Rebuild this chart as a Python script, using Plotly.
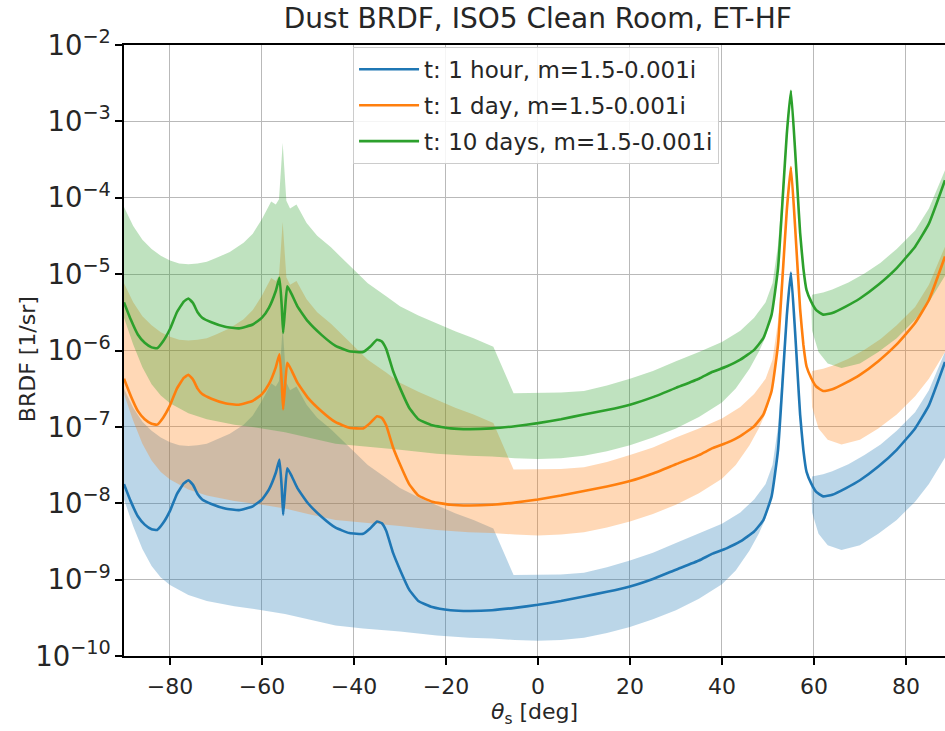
import plotly.graph_objects as go

# ---------------- data ----------------
theta = [-90, -88.5, -87, -85.5, -84, -82.8, -81.5, -80, -78.5, -77,
         -76, -75, -74, -73, -71, -68, -65, -62, -60, -58.5,
         -57, -56.2, -55.7, -55.4, -55, -54.5, -53.5, -52.3, -50, -47,
         -44, -41, -38, -36.5, -35, -34, -33, -31.5, -30, -28,
         -26, -23, -19, -15, -10, -5, 0, 5, 10, 15,
         20, 25, 30, 35, 38, 41, 44, 47, 49, 50.8,
         52.2, 53.3, 54.1, 55, 55.9, 56.5, 57, 57.7, 58.4, 59.4,
         60.5, 62, 64, 67, 70, 74, 78, 82, 85, 88.5]

brdf_1h = [1.78e-8, 1.05e-8, 6.76e-9, 5.25e-9, 4.57e-9, 4.47e-9, 5.50e-9, 7.94e-9, 1.32e-8, 1.82e-8,
           2.00e-8, 1.74e-8, 1.32e-8, 1.12e-8, 9.77e-9, 8.51e-9, 8.13e-9, 9.12e-9, 1.12e-8, 1.51e-8,
           2.51e-8, 3.72e-8, 1.58e-8, 7.08e-9, 1.41e-8, 2.88e-8, 2.24e-8, 1.58e-8, 1.00e-8, 6.61e-9,
           4.79e-9, 4.07e-9, 3.98e-9, 4.68e-9, 5.75e-9, 5.50e-9, 4.37e-9, 2.24e-9, 1.35e-9, 7.41e-10,
           5.25e-10, 4.37e-10, 3.98e-10, 3.89e-10, 3.98e-10, 4.27e-10, 4.68e-10, 5.25e-10, 6.03e-10, 6.92e-10,
           8.13e-10, 1.02e-9, 1.35e-9, 1.78e-9, 2.19e-9, 2.57e-9, 3.16e-9, 4.27e-9, 6.03e-9, 1.23e-8,
           5.01e-8, 5.01e-7, 2.82e-6, 1.05e-5, 1.78e-6, 4.47e-7, 1.45e-7, 5.01e-8, 2.57e-8, 1.82e-8,
           1.41e-8, 1.23e-8, 1.29e-8, 1.58e-8, 2.00e-8, 3.02e-8, 5.01e-8, 9.55e-8, 1.91e-7, 7.08e-7]

brdf_1d = [4.27e-7, 2.52e-7, 1.62e-7, 1.26e-7, 1.10e-7, 1.07e-7, 1.32e-7, 1.91e-7, 3.17e-7, 4.37e-7,
           4.80e-7, 4.18e-7, 3.17e-7, 2.69e-7, 2.34e-7, 2.04e-7, 1.95e-7, 2.19e-7, 2.69e-7, 3.62e-7,
           6.02e-7, 8.93e-7, 3.79e-7, 1.70e-7, 3.38e-7, 6.91e-7, 5.38e-7, 3.79e-7, 2.40e-7, 1.59e-7,
           1.15e-7, 9.77e-8, 9.55e-8, 1.12e-7, 1.38e-7, 1.32e-7, 1.05e-7, 5.38e-8, 3.24e-8, 1.78e-8,
           1.26e-8, 1.05e-8, 9.55e-9, 9.34e-9, 9.55e-9, 1.02e-8, 1.12e-8, 1.26e-8, 1.45e-8, 1.66e-8,
           1.95e-8, 2.45e-8, 3.24e-8, 4.27e-8, 5.26e-8, 6.17e-8, 7.58e-8, 1.02e-7, 1.45e-7, 2.95e-7,
           1.20e-6, 1.20e-5, 6.77e-5, 2.52e-4, 4.27e-5, 1.07e-5, 3.48e-6, 1.20e-6, 6.17e-7, 4.37e-7,
           3.38e-7, 2.95e-7, 3.10e-7, 3.79e-7, 4.80e-7, 7.25e-7, 1.20e-6, 2.29e-6, 4.58e-6, 1.70e-5]

brdf_10d = [4.27e-6, 2.52e-6, 1.62e-6, 1.26e-6, 1.10e-6, 1.07e-6, 1.32e-6, 1.91e-6, 3.17e-6, 4.37e-6,
            4.80e-6, 4.18e-6, 3.17e-6, 2.69e-6, 2.34e-6, 2.04e-6, 1.95e-6, 2.19e-6, 2.69e-6, 3.62e-6,
            6.02e-6, 8.93e-6, 3.79e-6, 1.70e-6, 3.38e-6, 6.91e-6, 5.38e-6, 3.79e-6, 2.40e-6, 1.59e-6,
            1.15e-6, 9.77e-7, 9.55e-7, 1.12e-6, 1.38e-6, 1.32e-6, 1.05e-6, 5.38e-7, 3.24e-7, 1.78e-7,
            1.26e-7, 1.05e-7, 9.55e-8, 9.34e-8, 9.55e-8, 1.02e-7, 1.12e-7, 1.26e-7, 1.45e-7, 1.66e-7,
            1.95e-7, 2.45e-7, 3.24e-7, 4.27e-7, 5.26e-7, 6.17e-7, 7.58e-7, 1.02e-6, 1.45e-6, 2.95e-6,
            1.20e-5, 1.20e-4, 6.77e-4, 2.52e-3, 4.27e-4, 1.07e-4, 3.48e-5, 1.20e-5, 6.17e-6, 4.37e-6,
            3.38e-6, 2.95e-6, 3.10e-6, 3.79e-6, 4.80e-6, 7.25e-6, 1.20e-5, 2.29e-5, 4.58e-5, 1.70e-4]

# upper edge of the shaded uncertainty bands
band_up_theta = [-90, -88, -86, -84, -82, -80, -78, -76, -74, -72,
                 -70, -67, -64, -62, -60, -59, -58, -57, -56.3, -55.5,
                 -54.7, -53.9, -52.5, -50.3, -48, -45, -41, -37, -33, -30,
                 -26, -22, -18, -14, -9.7, -5.3, 0, 5, 10, 15,
                 20, 25, 30, 35, 40, 44, 47, 49.5, 51, 52.2,
                 53.3, 54.1, 55, 55.9, 57, 58.4, 59.4, 59.6, 62, 64,
                 67.5, 71, 74.5, 78, 82, 85, 88.5]

up_1h = [3.16e-7, 1.78e-7, 1.17e-7, 8.91e-8, 7.24e-8, 6.31e-8, 5.75e-8, 5.62e-8, 5.75e-8, 6.03e-8,
         6.76e-8, 8.13e-8, 1.07e-7, 1.41e-7, 2.19e-7, 2.82e-7, 3.72e-7, 3.39e-7, 3.98e-7, 2.00e-6,
         3.80e-7, 3.02e-7, 3.39e-7, 1.95e-7, 1.32e-7, 9.33e-8, 5.37e-8, 3.16e-8, 2.14e-8, 1.58e-8,
         1.20e-8, 9.33e-9, 7.41e-9, 6.03e-9, 4.68e-9, 1.15e-9, 1.15e-9, 1.17e-9, 1.23e-9, 1.45e-9,
         1.78e-9, 2.24e-9, 3.02e-9, 3.98e-9, 5.37e-9, 7.59e-9, 1.12e-8, 1.78e-8, 3.16e-8, 1.00e-7,
         7.08e-7, 3.55e-6, 1.05e-5, 1.78e-6, 1.45e-7, 2.57e-8, 1.82e-8, 2.24e-8, 2.40e-8, 2.63e-8,
         3.24e-8, 4.27e-8, 5.89e-8, 8.91e-8, 1.55e-7, 3.02e-7, 9.55e-7]

up_1d = [7.58e-6, 4.27e-6, 2.81e-6, 2.14e-6, 1.74e-6, 1.51e-6, 1.38e-6, 1.35e-6, 1.38e-6, 1.45e-6,
         1.62e-6, 1.95e-6, 2.57e-6, 3.38e-6, 5.26e-6, 6.77e-6, 8.93e-6, 8.14e-6, 9.55e-6, 4.80e-5,
         9.12e-6, 7.25e-6, 8.14e-6, 4.68e-6, 3.17e-6, 2.24e-6, 1.29e-6, 7.58e-7, 5.14e-7, 3.79e-7,
         2.88e-7, 2.24e-7, 1.78e-7, 1.45e-7, 1.12e-7, 2.76e-8, 2.76e-8, 2.81e-8, 2.95e-8, 3.48e-8,
         4.27e-8, 5.38e-8, 7.25e-8, 9.55e-8, 1.29e-7, 1.82e-7, 2.69e-7, 4.27e-7, 7.58e-7, 2.40e-6,
         1.70e-5, 8.52e-5, 2.52e-4, 4.27e-5, 3.48e-6, 6.17e-7, 4.37e-7, 5.38e-7, 5.76e-7, 6.31e-7,
         7.78e-7, 1.02e-6, 1.41e-6, 2.14e-6, 3.72e-6, 7.25e-6, 2.29e-5]

up_10d = [7.58e-5, 4.27e-5, 2.81e-5, 2.14e-5, 1.74e-5, 1.51e-5, 1.38e-5, 1.35e-5, 1.38e-5, 1.45e-5,
          1.62e-5, 1.95e-5, 2.57e-5, 3.38e-5, 5.26e-5, 6.77e-5, 8.93e-5, 8.14e-5, 9.55e-5, 5.20e-4,
          9.12e-5, 7.25e-5, 8.14e-5, 4.68e-5, 3.17e-5, 2.24e-5, 1.29e-5, 7.58e-6, 5.14e-6, 3.79e-6,
          2.88e-6, 2.24e-6, 1.78e-6, 1.45e-6, 1.12e-6, 2.76e-7, 2.76e-7, 2.81e-7, 2.95e-7, 3.48e-7,
          4.27e-7, 5.38e-7, 7.25e-7, 9.55e-7, 1.29e-6, 1.82e-6, 2.69e-6, 4.27e-6, 7.58e-6, 2.40e-5,
          1.70e-4, 8.52e-4, 2.52e-3, 4.27e-4, 3.48e-5, 6.17e-6, 4.37e-6, 5.38e-6, 5.76e-6, 6.31e-6,
          7.78e-6, 1.02e-5, 1.41e-5, 2.14e-5, 3.72e-5, 7.25e-5, 2.29e-4]

# lower edge of the shaded uncertainty bands
band_lo_theta = [-90, -88, -86, -84, -82, -80, -76, -72, -66, -60,
                 -55, -50, -44, -38, -30, -22, -15, -10, -5, 0,
                 5, 10, 15, 20, 25, 30, 35, 40, 43, 46,
                 48, 49.5, 50.8, 52.2, 53.3, 54.1, 55, 55.9, 57, 58.4,
                 59.4, 59.6, 61, 63, 66, 70, 74, 78, 82, 85, 88.5]

lo_1h = [1.12e-8, 5.01e-9, 2.51e-9, 1.51e-9, 1.07e-9, 8.51e-10, 6.31e-10, 5.25e-10, 4.47e-10, 3.98e-10,
         3.55e-10, 3.02e-10, 2.51e-10, 2.29e-10, 2.09e-10, 1.86e-10, 1.74e-10, 1.70e-10, 1.62e-10, 1.58e-10,
         1.62e-10, 1.74e-10, 2.00e-10, 2.40e-10, 3.02e-10, 3.98e-10, 5.62e-10, 8.71e-10, 1.32e-9, 2.40e-9,
         3.98e-9, 6.31e-9, 1.23e-8, 5.01e-8, 5.01e-7, 2.82e-6, 1.05e-5, 1.78e-6, 1.45e-7, 2.57e-8,
         1.82e-8, 7.59e-9, 3.98e-9, 2.82e-9, 2.45e-9, 2.82e-9, 3.98e-9, 6.03e-9, 1.05e-8, 1.78e-8, 3.98e-8]

lo_1d = [2.69e-7, 1.20e-7, 6.02e-8, 3.62e-8, 2.57e-8, 2.04e-8, 1.51e-8, 1.26e-8, 1.07e-8, 9.55e-9,
         8.52e-9, 7.25e-9, 6.02e-9, 5.50e-9, 5.02e-9, 4.46e-9, 4.18e-9, 4.08e-9, 3.89e-9, 3.79e-9,
         3.89e-9, 4.18e-9, 4.80e-9, 5.76e-9, 7.25e-9, 9.55e-9, 1.35e-8, 2.09e-8, 3.17e-8, 5.76e-8,
         9.55e-8, 1.51e-7, 2.95e-7, 1.20e-6, 1.20e-5, 6.77e-5, 2.52e-4, 4.27e-5, 3.48e-6, 6.17e-7,
         4.37e-7, 1.82e-7, 9.55e-8, 6.77e-8, 5.88e-8, 6.77e-8, 9.55e-8, 1.45e-7, 2.52e-7, 4.27e-7, 9.55e-7]

lo_10d = [2.69e-6, 1.20e-6, 6.02e-7, 3.62e-7, 2.57e-7, 2.04e-7, 1.51e-7, 1.26e-7, 1.07e-7, 9.55e-8,
          8.52e-8, 7.25e-8, 6.02e-8, 5.50e-8, 5.02e-8, 4.46e-8, 4.18e-8, 4.08e-8, 3.89e-8, 3.79e-8,
          3.89e-8, 4.18e-8, 4.80e-8, 5.76e-8, 7.25e-8, 9.55e-8, 1.35e-7, 2.09e-7, 3.17e-7, 5.76e-7,
          9.55e-7, 1.51e-6, 2.95e-6, 1.20e-5, 1.20e-4, 6.77e-4, 2.52e-3, 4.27e-4, 3.48e-5, 6.17e-6,
          4.37e-6, 1.82e-6, 9.55e-7, 6.77e-7, 5.88e-7, 6.77e-7, 9.55e-7, 1.45e-6, 2.52e-6, 4.27e-6, 9.55e-6]

series_names = ["t: 1 hour, m=1.5-0.001i",
                "t: 1 day, m=1.5-0.001i",
                "t: 10 days, m=1.5-0.001i"]
line_colors = ["#1f77b4", "#ff7f0e", "#2ca02c"]
band_colors = ["rgba(31,119,180,0.3)", "rgba(255,127,14,0.3)", "rgba(44,160,44,0.3)"]

lines = [brdf_1h, brdf_1d, brdf_10d]
uppers = [up_1h, up_1d, up_10d]
lowers = [lo_1h, lo_1d, lo_10d]

# ---------------- figure ----------------
fig = go.Figure()

for i in range(3):
    fig.add_trace(go.Scatter(
        x=band_up_theta + band_lo_theta[::-1],
        y=uppers[i] + lowers[i][::-1],
        mode="lines", fill="toself", fillcolor=band_colors[i],
        line=dict(width=0, color=band_colors[i]),
        hoverinfo="skip", showlegend=False,
    ))

for i in range(3):
    fig.add_trace(go.Scatter(
        x=theta, y=lines[i], mode="lines", name=series_names[i],
        legendgroup="g%d" % i,
        line=dict(color=line_colors[i], width=2.6, shape="spline", smoothing=0.4),
    ))

text_color = "#262626"
L, T, W, H = 124, 45, 945, 731
fig.update_layout(
    width=W, height=H,
    margin=dict(l=L, r=0, t=T, b=75, autoexpand=False),
    paper_bgcolor="white", plot_bgcolor="white",
    font=dict(family="DejaVu Sans", size=22, color=text_color),
    title=dict(text="Dust BRDF, ISO5 Clean Room, ET-HF",
               x=0.504, xref="paper", xanchor="center",
               y=1 - 18 / H, yref="container", yanchor="middle",
               font=dict(size=28, color=text_color)),
    legend=dict(x=0.279, y=0.997, xanchor="left", yanchor="top",
                bgcolor="rgba(255,255,255,0.85)", bordercolor="#cccccc",
                borderwidth=1, font=dict(size=23, color=text_color),
                traceorder="grouped", tracegroupgap=3, itemwidth=60),
    showlegend=True,
    annotations=[dict(text="BRDF [1/sr]", textangle=-90,
                      xref="paper", yref="paper", x=-0.118, y=0.486,
                      xanchor="center", yanchor="middle", showarrow=False,
                      font=dict(size=22, color=text_color))],
)

fig.update_xaxes(
    range=[-90, 88.5], tick0=0, dtick=20, automargin=False,
    showgrid=True, gridcolor="#b9b9b9", gridwidth=1, zeroline=False,
    showline=True, linecolor="black", linewidth=1.5, mirror=True,
    ticks="outside", ticklen=7, tickwidth=1.5, tickcolor="black",
    ticklabelstandoff=3,
    title=dict(text="<i>θ</i><sub>s</sub> [deg]", standoff=3,
               font=dict(size=22, color=text_color)),
)
fig.update_yaxes(
    type="log", range=[-10, -2], dtick=1, exponentformat="power", showexponent="all",
    automargin=False,
    showgrid=True, gridcolor="#b9b9b9", gridwidth=1, zeroline=False,
    showline=True, linecolor="black", linewidth=1.5,
    ticks="outside", ticklen=7, tickwidth=1.5, tickcolor="black",
)

fig.write_html("out.html",
               config={"displayModeBar": False},
               post_script="document.body.style.margin='0';"
                           "document.documentElement.style.overflow='hidden';")
